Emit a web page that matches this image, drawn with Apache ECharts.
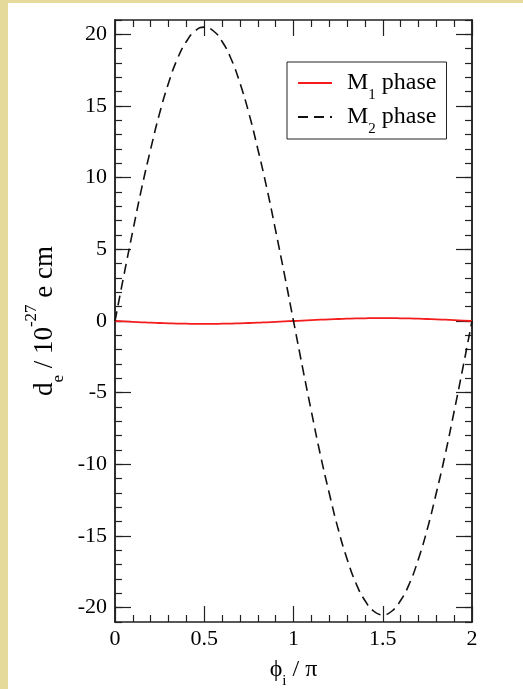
<!DOCTYPE html>
<html>
<head>
<meta charset="utf-8">
<script src="https://cdn.jsdelivr.net/npm/echarts@6/dist/echarts.min.js"></script>
<style>
  html, body { margin: 0; padding: 0; background: #e6da9a; width: 523px; height: 689px; overflow: hidden; }
  #chart { position: absolute; left: 8px; top: 3px; width: 515px; height: 686px; background: #ffffff; }
</style>
</head>
<body>
<div id="chart"></div>
<script>
// phase angle phi_i / pi
const phi = [0, 0.05, 0.1, 0.15, 0.2, 0.25, 0.3, 0.35, 0.4, 0.45, 0.5,
  0.55, 0.6, 0.65, 0.7, 0.75, 0.8, 0.85, 0.9, 0.95, 1,
  1.05, 1.1, 1.15, 1.2, 1.25, 1.3, 1.35, 1.4, 1.45, 1.5,
  1.55, 1.6, 1.65, 1.7, 1.75, 1.8, 1.85, 1.9, 1.95, 2];

// electron EDM, units of 1e-27 e cm
const m1Phase = [0, -0.03, -0.06, -0.09, -0.12, -0.14, -0.16, -0.18, -0.19, -0.2, -0.2,
  -0.2, -0.19, -0.18, -0.16, -0.14, -0.12, -0.09, -0.06, -0.03, 0,
  0.03, 0.06, 0.09, 0.12, 0.14, 0.16, 0.18, 0.19, 0.2, 0.2,
  0.2, 0.19, 0.18, 0.16, 0.14, 0.12, 0.09, 0.06, 0.03, 0];

const m2Phase = [0, 3.2, 6.3, 9.3, 12.0, 14.5, 16.6, 18.3, 19.5, 20.25, 20.5,
  20.25, 19.5, 18.3, 16.6, 14.5, 12.0, 9.3, 6.3, 3.2, 0,
  -3.2, -6.3, -9.3, -12.0, -14.5, -16.6, -18.3, -19.5, -20.25, -20.5,
  -20.25, -19.5, -18.3, -16.6, -14.5, -12.0, -9.3, -6.3, -3.2, 0];

const yMajorTicks = [-20, -15, -10, -5, 0, 5, 10, 15, 20];
const yMinorTicks = [];
for (let v = -21; v <= 21; v++) yMinorTicks.push(v);

const FONT = '"Liberation Serif", "DejaVu Serif", serif';
const AXIS_LINE = { show: true, onZero: false, lineStyle: { color: '#222', width: 1.5 } };

function xAxisDef(position, withLabels) {
  return {
    type: 'value', position: position, min: 0, max: 2, interval: 0.5,
    axisLine: AXIS_LINE,
    axisTick: { show: true, inside: true, length: 16, lineStyle: { color: '#222', width: 1.2 } },
    minorTick: { show: true, splitNumber: 5, length: 7, lineStyle: { color: '#222', width: 1.2 } },
    axisLabel: { show: withLabels, color: '#000', fontFamily: FONT, fontSize: 22, margin: 6 },
    splitLine: { show: false }, minorSplitLine: { show: false }
  };
}

function yAxisDef(position, ticks, len, withLabels) {
  return {
    type: 'value', position: position, min: -21, max: 21,
    axisLine: AXIS_LINE,
    axisTick: { show: true, inside: true, length: len, customValues: ticks, lineStyle: { color: '#222', width: 1.2 } },
    axisLabel: { show: withLabels, customValues: yMajorTicks, color: '#000', fontFamily: FONT, fontSize: 22, margin: 8 },
    splitLine: { show: false }
  };
}

const xBottom = xAxisDef('bottom', true);
xBottom.name = '{t|\u03d5}{s|i}{t| / \u03c0}';
xBottom.nameLocation = 'middle';
xBottom.nameGap = 34;
xBottom.nameTextStyle = {
  rich: {
    t: { fontFamily: FONT, fontSize: 24, color: '#000', lineHeight: 28 },
    s: { fontFamily: FONT, fontSize: 15, color: '#000', lineHeight: 15, verticalAlign: 'bottom', padding: [0, 0, -5, 0] }
  }
};

const yLeft = yAxisDef('left', yMajorTicks, 16, true);
yLeft.name = '{t|d}{s|e}{t| / 10}{p|-27}{t| e cm}';
yLeft.nameLocation = 'middle';
yLeft.nameRotate = 90;
yLeft.nameGap = 44;
yLeft.nameTextStyle = {
  rich: {
    t: { fontFamily: FONT, fontSize: 27, color: '#000', lineHeight: 30 },
    s: { fontFamily: FONT, fontSize: 17, color: '#000', lineHeight: 17, verticalAlign: 'bottom', padding: [0, 0, -7, 0] },
    p: { fontFamily: FONT, fontSize: 17, color: '#000', lineHeight: 17, verticalAlign: 'top', padding: [-7, 0, 0, 0] }
  }
};

const legendNames = { 'M1 phase': '{g|}{t|M}{s|1}{t| phase}', 'M2 phase': '{g|}{t|M}{s|2}{t| phase}' };

const option = {
  animation: false,
  backgroundColor: '#ffffff',
  grid: { left: 107, top: 17, right: 51, bottom: 67, containLabel: false, outerBoundsMode: 'none' },
  legend: {
    orient: 'vertical', left: 279, top: 59,
    borderColor: '#222', borderWidth: 1,
    padding: [9, 10, 2, 10],
    itemWidth: 34, itemHeight: 14, itemGap: 2,
    data: ['M1 phase', 'M2 phase'],
    formatter: n => legendNames[n],
    itemStyle: { opacity: 0 },
    textStyle: {
      rich: {
        g: { width: 10, lineHeight: 28 },
        t: { fontFamily: FONT, fontSize: 24, color: '#000', lineHeight: 28 },
        s: { fontFamily: FONT, fontSize: 15, color: '#000', lineHeight: 15, verticalAlign: 'bottom', padding: [0, 0, -6, 0] }
      }
    }
  },
  xAxis: [xBottom, xAxisDef('top', false)],
  yAxis: [
    yLeft,
    yAxisDef('left', yMinorTicks, 7, false),
    yAxisDef('right', yMajorTicks, 16, false),
    yAxisDef('right', yMinorTicks, 7, false)
  ],
  series: [
    {
      name: 'M1 phase', type: 'line', xAxisIndex: 0, yAxisIndex: 0,
      data: phi.map((x, i) => [x, m1Phase[i]]),
      showSymbol: false, symbol: 'none', smooth: true,
      lineStyle: { color: '#f41c1c', width: 1.8 },
      itemStyle: { color: '#f41c1c' }
    },
    {
      name: 'M2 phase', type: 'line', xAxisIndex: 0, yAxisIndex: 0,
      data: phi.map((x, i) => [x, m2Phase[i]]),
      showSymbol: false, symbol: 'none', smooth: true,
      lineStyle: { color: '#111', width: 1.6, type: [10, 6] },
      itemStyle: { color: '#111' }
    }
  ]
};

const chart = echarts.init(document.getElementById('chart'), null, { renderer: 'canvas' });
chart.setOption(option);
</script>
</body>
</html>
